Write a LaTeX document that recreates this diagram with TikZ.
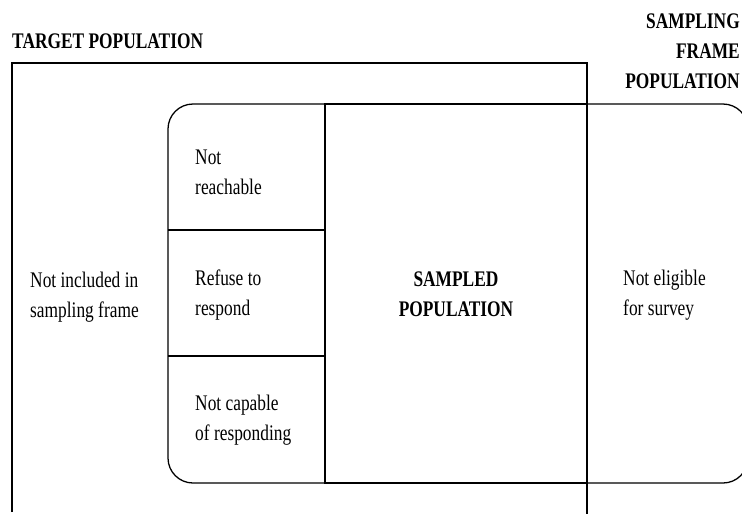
\documentclass[tikz,border=0pt]{standalone}
\usepackage{fontspec}
\setmainfont{Liberation Serif}[FakeStretch=0.78]
\tikzset{
  lbl/.style={inner sep=0pt, align=left, anchor=north west, font=\fontsize{19}{25.6}\selectfont},
  head/.style={inner sep=0pt, font=\fontsize{19}{25.6}\selectfont\bfseries},
  thinline/.style={line width=1.1pt},
}
\begin{document}
\begin{tikzpicture}[x=0.03cm,y=-0.03cm]
\useasboundingbox (0,0) rectangle (742,521);
% target population
\node[head,anchor=base west] (target) at (12,48) {TARGET POPULATION};
\draw[thinline] (12,512) -- (12,63) -- (587,63) -- (587,514);
\node[lbl] (notincl) at (30,272) {Not included in\\sampling frame};
% sampling frame
\node[head,align=right,anchor=north east] (frame) at (740,14) {SAMPLING\\FRAME\\POPULATION};
\draw[thinline,rounded corners=0.75cm] (168,104) rectangle (748,483);
\draw[thinline] (168,230) -- (325,230);
\draw[thinline] (168,356) -- (325,356);
\node[lbl] (notreach) at (195,150) {Not\\reachable};
\node[lbl] (refuse) at (195,270) {Refuse to\\respond};
\node[lbl] (notcap) at (195,395) {Not capable\\of responding};
\node[lbl] (notelig) at (623,270) {Not eligible\\for survey};
% sampled population
\draw[line width=2.4pt] (325,104) rectangle (587,483);
\node[head,align=center,anchor=north] (sampled) at (456,272) {SAMPLED\\POPULATION};
\end{tikzpicture}
\end{document}
